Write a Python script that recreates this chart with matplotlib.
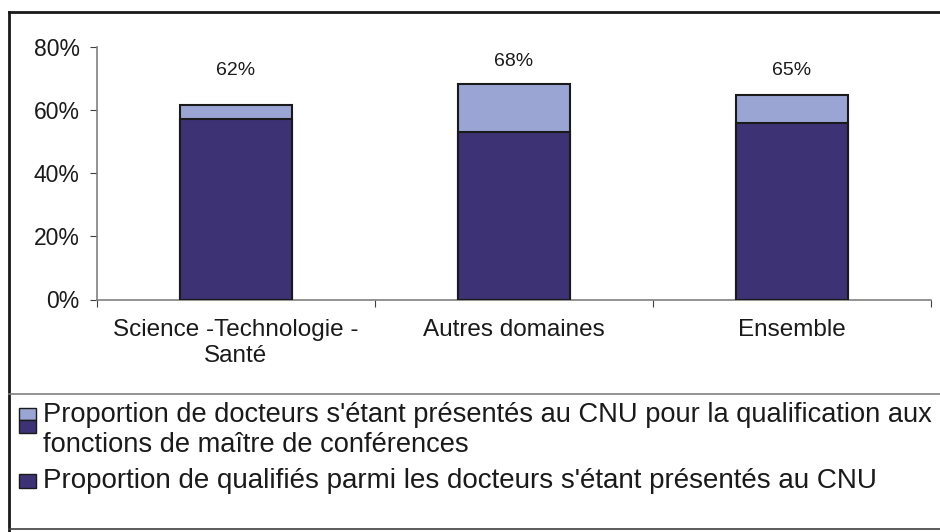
import matplotlib
matplotlib.use("Agg")
import matplotlib.pyplot as plt
from matplotlib.patches import Rectangle
from matplotlib.lines import Line2D

categories = ["Science -Technologie -\nSanté", "Autres domaines", "Ensemble"]
presentes = [61.6, 68.3, 64.8]   # % docteurs présentés au CNU
qualifies = [57.2, 52.9, 55.8]   # % qualifiés
yticks = [0, 20, 40, 60, 80]
legend_labels = [
    "Proportion de docteurs s'étant présentés au CNU pour la qualification aux\nfonctions de maître de conférences",
    "Proportion de qualifiés parmi les docteurs s'étant présentés au CNU",
]

W, H = 940, 532
LIGHT = "#9AA5D3"
DARK = "#3D3274"
TXT = "#1a1a1a"

plt.rcParams['font.family'] = ['Liberation Sans', 'DejaVu Sans']

fig = plt.figure(figsize=(W / 100, H / 100), dpi=100)

def fx(px):
    return px / W

def fy(py):
    return 1 - py / H

ax = fig.add_axes([fx(97), fy(299.5), fx(931) - fx(97), fy(46.7) - fy(299.5)])

x = list(range(len(categories)))
ax.bar(x, presentes, width=0.4, color=LIGHT, edgecolor="#1a1a1a", linewidth=1.5, zorder=2)
ax.bar(x, qualifies, width=0.4, color=DARK, edgecolor="#1a1a1a", linewidth=1.5, zorder=3)

offsets = [34, 22, 24]
for xi, v, off in zip(x, presentes, offsets):
    ax.annotate(f"{round(v)}%", (xi, v), xytext=(0, off * 0.72), textcoords="offset points",
                ha="center", va="center", fontsize=14, color=TXT)

ax.set_xlim(-0.5, len(categories) - 0.5)
ax.set_ylim(0, 80)
ax.set_yticks(yticks)
ax.set_yticklabels([f"{t}%" for t in yticks], fontsize=16.5, color=TXT)
ax.set_xticks([-0.5, 0.5, 1.5, 2.5])
ax.set_xticklabels([])
ax.set_xticks(x, minor=True)
ax.set_xticklabels(categories, minor=True, fontsize=17.5, color=TXT, linespacing=1.25)
ax.tick_params(axis="x", which="minor", length=0, pad=14)
ax.tick_params(axis="x", which="major", length=5, color="#404040", direction="out")
ax.tick_params(axis="y", length=5, color="#404040", pad=7.5)
for s in ["top", "right"]:
    ax.spines[s].set_visible(False)
for s in ["left", "bottom"]:
    ax.spines[s].set_color("#808080")
    ax.spines[s].set_linewidth(1.2)

# outer frame
fig.add_artist(Line2D([fx(9), fx(9)], [fy(12), 0], transform=fig.transFigure, color="#1a1a1a", lw=2))
fig.add_artist(Line2D([fx(9), 1.01], [fy(12), fy(12)], transform=fig.transFigure, color="#1a1a1a", lw=2))
# legend box lines
fig.add_artist(Line2D([fx(9), 1.01], [fy(394), fy(394)], transform=fig.transFigure, color="#808080", lw=1.2))
fig.add_artist(Line2D([fx(9), 1.01], [fy(529), fy(529)], transform=fig.transFigure, color="#404040", lw=1.2))

# legend markers
fig.add_artist(Rectangle((fx(19), fy(420)), fx(17), fy(408) - fy(420), transform=fig.transFigure,
                         facecolor=LIGHT, edgecolor="#1a1a1a", lw=1))
fig.add_artist(Rectangle((fx(19), fy(433)), fx(17), fy(420) - fy(433), transform=fig.transFigure,
                         facecolor=DARK, edgecolor="#1a1a1a", lw=1))
fig.add_artist(Rectangle((fx(19), fy(488)), fx(17), fy(474) - fy(488), transform=fig.transFigure,
                         facecolor=DARK, edgecolor="#1a1a1a", lw=1))

fig.text(fx(43), fy(430), legend_labels[0], fontsize=19.6, color=TXT, ha="left", va="center",
         linespacing=1.17)
fig.text(fx(43), fy(481), legend_labels[1], fontsize=20, color=TXT, ha="left", va="center")

fig.savefig("out.png", dpi=100)
